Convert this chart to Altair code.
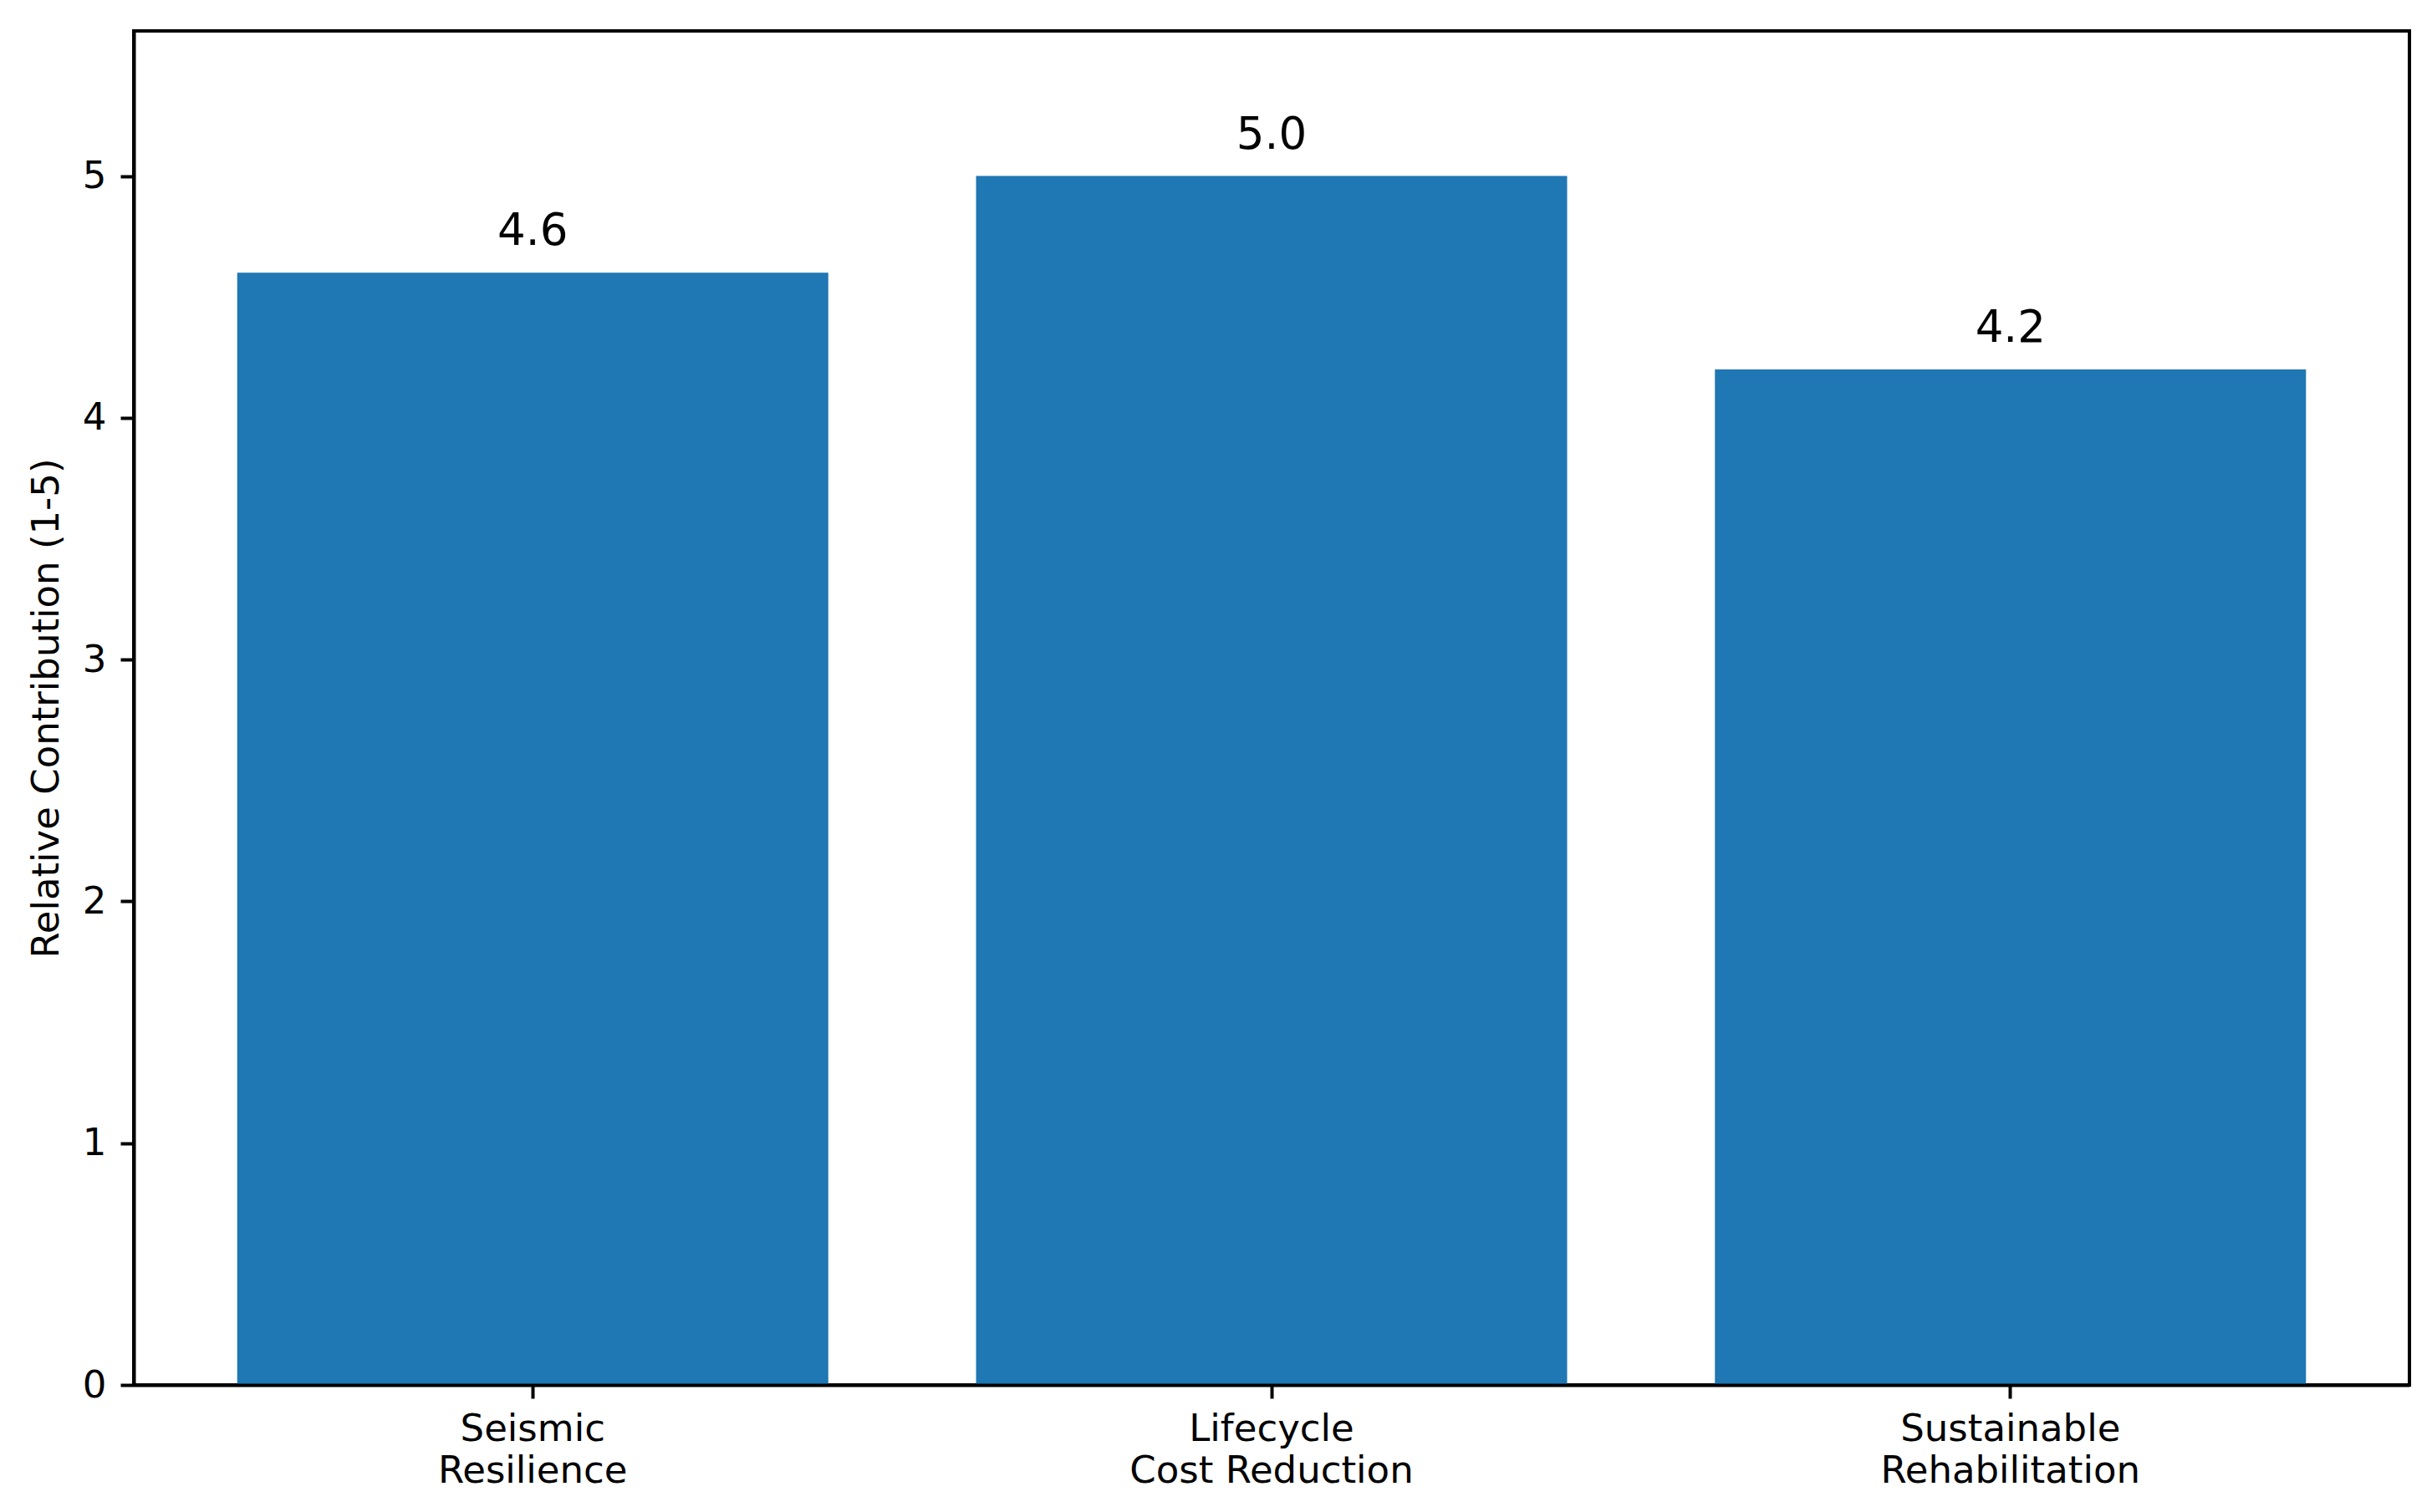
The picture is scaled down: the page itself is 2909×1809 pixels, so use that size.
import altair as alt
import pandas as pd

categories = ["Seismic\nResilience", "Lifecycle\nCost Reduction", "Sustainable\nRehabilitation"]
values = [4.6, 5.0, 4.2]
value_labels = ["4.6", "5.0", "4.2"]
y_ticks = [0, 1, 2, 3, 4, 5]

df = pd.DataFrame({"cat": categories, "val": values, "lab": value_labels})

FONT = "DejaVu Sans"
LW = 4

x_enc = alt.X(
    "cat:N",
    sort=None,
    title=None,
    scale=alt.Scale(paddingInner=0.2, paddingOuter=0.14),
    axis=alt.Axis(
        labelAngle=0,
        labelExpr="split(datum.label, '\\n')",
        labelLineHeight=50,
        labelFontSize=45,
        labelFont=FONT,
        labelColor="black",
        labelPadding=14,
        labelBaseline="top",
        labelLimit=0,
        tickSize=16,
        tickWidth=LW,
        tickColor="black",
        domain=True,
        domainColor="black",
        domainWidth=LW,
        zindex=1,
    ),
)

y_enc = alt.Y(
    "val:Q",
    scale=alt.Scale(domain=[0, 5.6], nice=False, zero=True),
    axis=alt.Axis(
        values=y_ticks,
        format="d",
        title="Relative Contribution (1-5)",
        titleFont=FONT,
        titleFontSize=45,
        titleFontWeight="normal",
        titleColor="black",
        titleX=-91,
        titleY=810,
        titleAngle=270,
        titleAlign="center",
        titleBaseline="alphabetic",
        labelFontSize=45,
        labelFont=FONT,
        labelColor="black",
        labelPadding=17,
        tickSize=16,
        tickWidth=LW,
        tickColor="black",
        grid=False,
        domain=True,
        domainColor="black",
        domainWidth=LW,
        zindex=1,
    ),
)

bars = alt.Chart(df).mark_bar(color="#1f77b4").encode(x=x_enc, y=y_enc)

texts = alt.Chart(df).mark_text(
    font=FONT, fontSize=53, color="black", baseline="alphabetic", align="center", dy=-33
).encode(
    x=alt.X("cat:N", sort=None),
    y=alt.Y("val:Q"),
    text="lab:N",
)

chart = (
    alt.layer(bars, texts)
    .properties(
        width=2722,
        height=1620,
        autosize=alt.AutoSizeParams(type="none"),
        padding={"left": 152, "top": 29, "right": 15, "bottom": 130},
        background="white",
    )
    .configure_view(stroke="black", strokeWidth=LW)
)

chart.save("out.html", embed_options={"renderer": "svg", "actions": False})
